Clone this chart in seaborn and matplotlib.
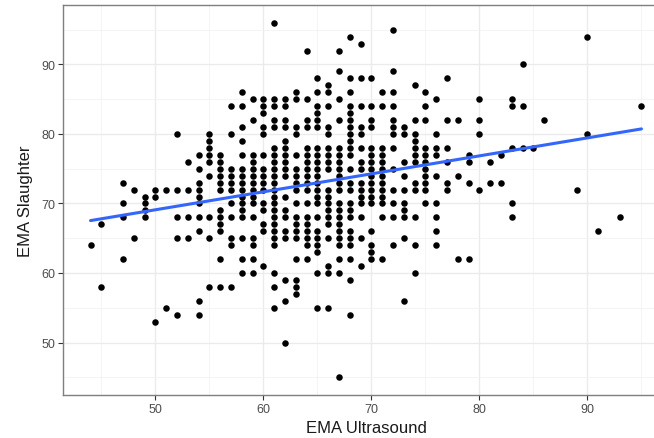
import matplotlib
matplotlib.use("Agg")
import matplotlib.pyplot as plt
from matplotlib.ticker import MultipleLocator
import seaborn as sns
import pandas as pd

# EMA measured by ultrasound (one entry per column of points)
ultrasound_cols = [44, 45, 47, 48, 49, 50, 51, 52, 53, 54, 55, 56, 57, 58, 59, 60,
                   61, 62, 63, 64, 65, 66, 67, 68, 69, 70, 71, 72, 73, 74, 75, 76,
                   77, 78, 79, 80, 81, 82, 83, 84, 85, 86, 89, 90, 91, 93, 95]

# EMA measured at slaughter for each ultrasound value above
slaughter_cols = [
    [64],
    [67, 58],
    [73, 70, 68, 62],
    [72, 65],
    [71, 70, 69, 68],
    [72, 71, 53],
    [72, 55],
    [80, 72, 68, 65, 54],
    [76, 72, 68, 65],
    [77, 75, 73, 72, 71, 70, 68, 66, 56, 54],
    [80, 79, 78, 77, 76, 74, 68, 65, 58],
    [77, 76, 75, 74, 73, 72, 69, 68, 67, 66, 62, 58],
    [84, 80, 75, 74, 73, 72, 70, 68, 65, 64, 58],
    [86, 84, 81, 79, 77, 75, 74, 73, 72, 71, 70, 69, 68, 65, 62, 60],
    [85, 82, 77, 76, 75, 74, 73, 72, 71, 70, 68, 65, 64, 62, 60],
    [85, 84, 83, 81, 80, 77, 75, 74, 73, 72, 70, 69, 67, 66, 61],
    [96, 85, 84, 82, 81, 78, 77, 76, 75, 74, 73, 72, 71, 70, 69, 68, 67, 66, 65, 64, 60, 58, 55],
    [85, 84, 82, 81, 79, 78, 77, 76, 75, 74, 71, 69, 68, 66, 65, 59, 56, 50],
    [86, 85, 81, 80, 77, 75, 74, 73, 72, 70, 68, 67, 66, 65, 62, 59, 58, 57],
    [92, 85, 82, 81, 78, 77, 76, 75, 74, 73, 72, 70, 68, 67, 66, 65, 64, 62],
    [88, 86, 84, 83, 82, 81, 78, 77, 76, 75, 74, 73, 72, 71, 70, 68, 66, 65, 64, 63, 60, 55],
    [87, 86, 84, 81, 80, 78, 77, 76, 75, 72, 71, 70, 69, 68, 67, 65, 61, 60, 55],
    [92, 89, 85, 82, 78, 77, 76, 75, 74, 73, 72, 70, 69, 68, 67, 66, 65, 64, 62, 60, 45],
    [94, 88, 86, 84, 83, 82, 81, 80, 79, 78, 77, 75, 73, 72, 70, 69, 68, 66, 65, 64, 62, 59, 54],
    [93, 88, 84, 81, 80, 78, 76, 75, 73, 72, 71, 70, 68, 65, 61],
    [88, 84, 82, 81, 78, 77, 76, 75, 74, 73, 72, 71, 70, 66, 64, 63, 62],
    [86, 84, 78, 77, 76, 75, 74, 73, 72, 71, 70, 68, 62],
    [95, 89, 86, 84, 82, 81, 80, 78, 75, 72, 70, 68, 64],
    [81, 80, 76, 74, 72, 70, 69, 68, 65, 56],
    [87, 82, 80, 79, 78, 77, 76, 73, 72, 68, 64, 60],
    [86, 84, 82, 78, 77, 76, 75, 74, 73, 72, 70],
    [85, 80, 78, 77, 74, 70, 68, 66, 64],
    [88, 82, 78, 76, 73, 72],
    [82, 74, 62],
    [77, 76, 73, 62],
    [85, 82, 80, 72],
    [76, 73],
    [77, 73],
    [85, 84, 78, 70, 68],
    [90, 84, 78],
    [78],
    [82],
    [72],
    [94, 80],
    [66],
    [68],
    [84],
]

x_major = [50, 60, 70, 80, 90]
y_major = [50, 60, 70, 80, 90]

rows = [(u, s) for u, col in zip(ultrasound_cols, slaughter_cols) for s in col]
df = pd.DataFrame(rows, columns=["EMA Ultrasound", "EMA Slaughter"])

sns.set_theme(style="white")
plt.rcParams["font.family"] = ["Liberation Sans", "DejaVu Sans"]

fig = plt.figure(figsize=(6.54, 4.39), dpi=100)
ax = fig.add_axes([63 / 654, 43 / 439, 606 / 654, 390 / 439])

sns.scatterplot(data=df, x="EMA Ultrasound", y="EMA Slaughter", ax=ax,
                color="black", s=22, linewidth=0, zorder=3)
sns.regplot(data=df, x="EMA Ultrasound", y="EMA Slaughter", ax=ax,
            scatter=False, ci=None, truncate=True,
            line_kws={"color": "#3366FF", "lw": 2.2, "zorder": 4})

ax.set_xlim(41.45, 97.55)
ax.set_ylim(42.45, 98.55)
ax.set_xticks(x_major)
ax.set_yticks(y_major)
ax.xaxis.set_minor_locator(MultipleLocator(5))
ax.yaxis.set_minor_locator(MultipleLocator(5))

ax.set_facecolor("white")
ax.grid(which="major", color="#EBEBEB", lw=1.0, zorder=0)
ax.grid(which="minor", color="#F2F2F2", lw=0.6, zorder=0)
ax.set_axisbelow(True)
for sp in ax.spines.values():
    sp.set_color("#7F7F7F")
    sp.set_linewidth(1.0)

ax.tick_params(axis="both", which="major", length=3.5, width=0.8, color="#333333",
               labelsize=9, labelcolor="#4D4D4D", pad=2, bottom=True, left=True)
ax.tick_params(axis="both", which="minor", length=0)

ax.set_xlabel("EMA Ultrasound", fontsize=12, color="#1A1A1A", labelpad=4)
ax.set_ylabel("EMA Slaughter", fontsize=12, color="#1A1A1A", labelpad=6)

fig.savefig("out.png", dpi=100)
